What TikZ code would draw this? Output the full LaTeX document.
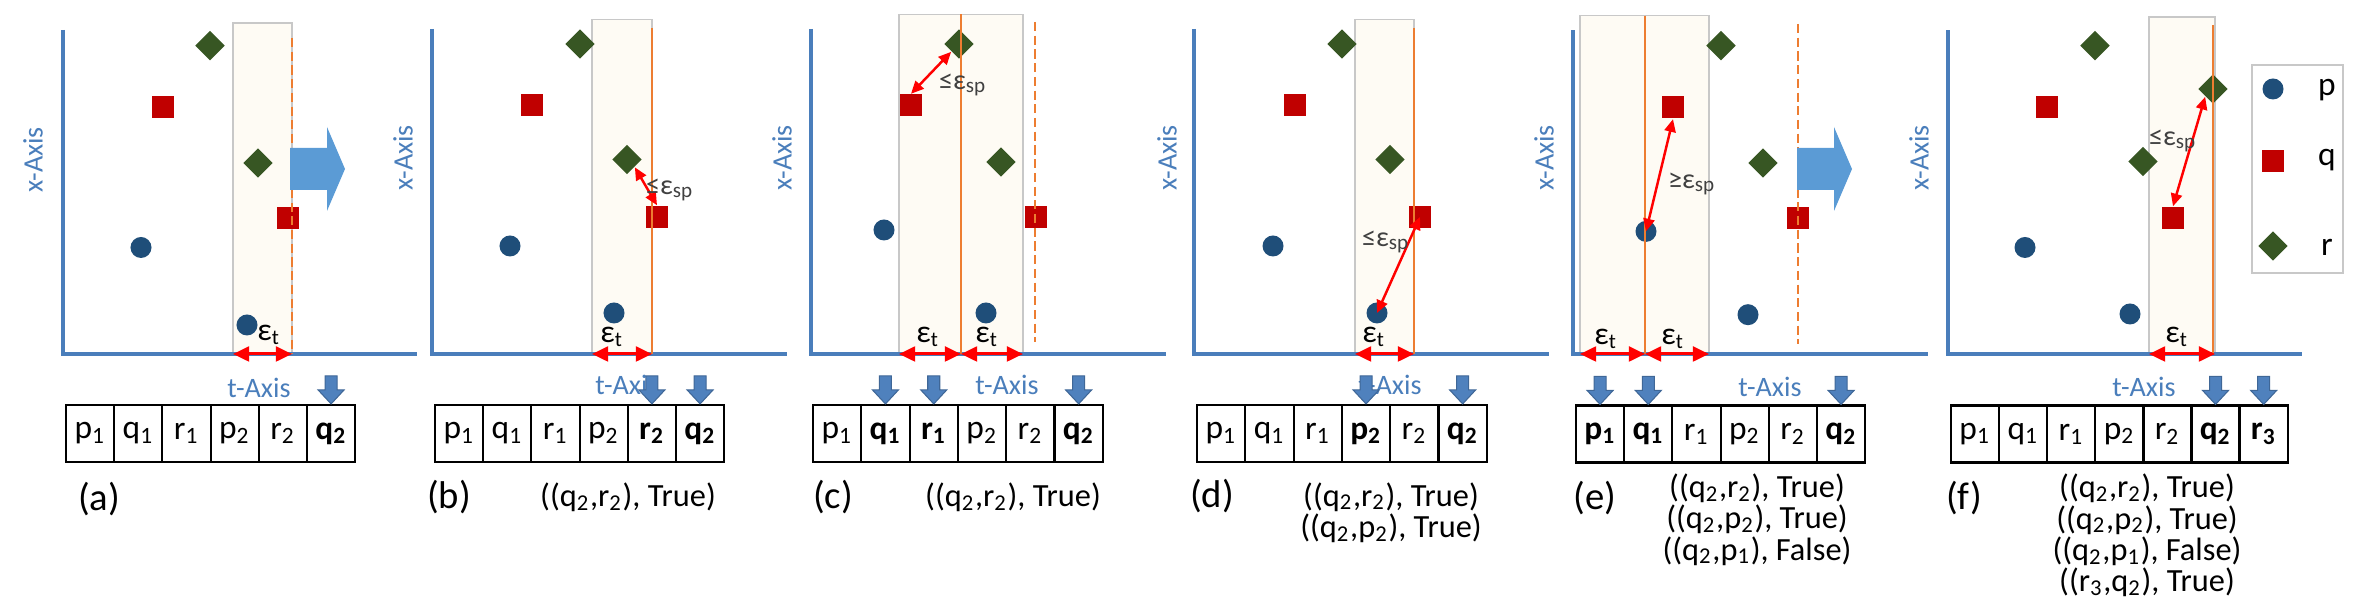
\documentclass[tikz,border=0pt]{standalone}
\usepackage{fontspec}
\setmainfont{Carlito}
\usetikzlibrary{arrows.meta,shapes.geometric}
\definecolor{axisblue}{RGB}{74,126,187}
\definecolor{bigblue}{RGB}{91,155,213}
\definecolor{ptrblue}{RGB}{79,129,189}
\definecolor{pblue}{RGB}{31,78,121}
\definecolor{qred}{RGB}{192,0,0}
\definecolor{rgreen}{RGB}{55,86,35}
\definecolor{winfill}{RGB}{254,251,244}
\definecolor{wingray}{RGB}{200,200,200}
\definecolor{torange}{RGB}{237,125,49}
\definecolor{spgray}{RGB}{64,64,64}
\newcommand{\ix}[1]{\textsubscript{#1}}

\tikzset{
  ptp/.style={circle, fill=pblue, minimum size=0.21cm, inner sep=0pt},
  ptq/.style={rectangle, fill=qred, minimum size=0.22cm, inner sep=0pt},
  ptr/.style={diamond, fill=rgreen, minimum size=0.30cm, inner sep=0pt},
  window/.style={fill=winfill, draw=wingray, line width=0.5pt},
  axis/.style={draw=axisblue, line width=0.95pt},
  tline/.style={draw=torange, line width=0.65pt},
  tdash/.style={tline, line width=0.75pt, dash pattern=on 2.6pt off 1.3pt},
  epsarrow/.style={red, line width=0.85pt, {Triangle[length=4.6pt,width=4.2pt]}-{Triangle[length=4.6pt,width=4.2pt]}},
  sparrow/.style={red, line width=0.7pt, {Triangle[length=3.6pt,width=3.2pt]}-{Triangle[length=3.6pt,width=3.2pt]}},
  cellbox/.style={draw, line width=0.6pt, minimum width=0.482cm, minimum height=0.57cm, inner sep=0pt, font=\fontsize{9.5}{10}\selectfont},
  xlab/.style={rotate=90, text=axisblue, font=\fontsize{8}{9}\selectfont},
  tlab/.style={text=axisblue, font=\fontsize{8}{9}\selectfont},
  epslab/.style={font=\fontsize{9}{10}\selectfont},
  splab/.style={text=spgray, font=\fontsize{8}{9}\selectfont},
  reslab/.style={align=center, font=\fontsize{9.2}{8.9}\selectfont},
  panlab/.style={font=\fontsize{11}{12}\selectfont},
  leglab/.style={font=\fontsize{9.5}{10}\selectfont},
  bigarrow/.pic={\fill[bigblue] (0,-21) -- (37,-21) -- (37,-42) -- (55,0) -- (37,42) -- (37,21) -- (0,21) -- cycle;},
  ptrarrow/.pic={\fill[ptrblue, draw=ptrblue!80!black, line width=0.3pt] (0,0) -- (-13,-14) -- (-6,-14) -- (-6,-28) -- (6,-28) -- (6,-14) -- (13,-14) -- cycle;}
}

\begin{document}
\begin{tikzpicture}[x=0.01cm, y=-0.01cm]
    \useasboundingbox (0,0) rectangle (2368,613);

    % (a) window before the jump
    \draw[window] (233,22.7) rectangle (292,354);
    \draw[axis] (63,30) -- (63,354) -- (417,354);
    \node[xlab] (a-xlab) at (33,160) {x-Axis};
    \node[ptp] (a-p1) at (141,247.5) {};
    \node[ptq] (a-q1) at (163,107.5) {};
    \node[ptr] (a-r1) at (210,45.7) {};
    \node[ptp] (a-p2) at (247,325) {};
    \node[ptr] (a-r2) at (258,163) {};
    \node[ptq] (a-q2) at (288,218) {};
    \draw[tdash] (292,38) -- (292,354);
    \pic at (290,169) {bigarrow};
    \coordinate (a-t0) at (233,354);
    \coordinate (a-t1) at (292,354);
    \draw[epsarrow] (a-t0) -- (a-t1);
    \node[epslab] (a-eps) at (269,335) {ε\ix{t}};
    \node[tlab] (a-tlab) at (259,388) {t-Axis};
    \foreach \lbl [count=\i] in {p\ix{1}, q\ix{1}, r\ix{1}, p\ix{2}, r\ix{2}, {\bfseries q\ix{2}}}
        \node[cellbox] (a-c\i) at ({66+(\i-0.5)*48.2},433.5) {\lbl};
    \pic at (a-c6.north) {ptrarrow};
    \node[panlab] (a-lab) at (99,499) {(a)};

    % (b) q2 against r2
    \draw[window] (592,19.5) rectangle (652,354);
    \draw[axis] (432,29) -- (432,354) -- (787,354);
    \node[xlab] (b-xlab) at (403,158) {x-Axis};
    \node[ptp] (b-p1) at (510,246) {};
    \node[ptq] (b-q1) at (532,105.5) {};
    \node[ptr] (b-r1) at (580,44) {};
    \node[ptp] (b-p2) at (614,313) {};
    \node[ptr] (b-r2) at (627,159.5) {};
    \node[ptq] (b-q2) at (657,217) {};
    \draw[tline] (652,28) -- (652,354);
    \draw[sparrow] (b-r2.south east) -- (b-q2.north);
    \node[splab] (b-sp) at (670,190) {≤ε\ix{sp}};
    \coordinate (b-t0) at (592,354);
    \coordinate (b-t1) at (652,354);
    \draw[epsarrow] (b-t0) -- (b-t1);
    \node[epslab] (b-eps) at (612,337) {ε\ix{t}};
    \node[tlab] (b-tlab) at (627,385) {t-Axis};
    \foreach \lbl [count=\i] in {p\ix{1}, q\ix{1}, r\ix{1}, p\ix{2}, {\bfseries r\ix{2}}, {\bfseries q\ix{2}}}
        \node[cellbox] (b-c\i) at ({435+(\i-0.5)*48.2},433.5) {\lbl};
    \pic at (b-c5.north) {ptrarrow};
    \pic at (b-c6.north) {ptrarrow};
    \node[panlab] (b-lab) at (449,497) {(b)};
    \node[reslab] (b-res) at (628,497) {((q\ix{2},r\ix{2}), True)};

    % (c) window around q1
    \draw[window] (899,14.5) rectangle (1023,354);
    \draw[axis] (811,29) -- (811,354) -- (1166,354);
    \node[xlab] (c-xlab) at (782,158) {x-Axis};
    \node[ptp] (c-p1) at (884,230) {};
    \node[ptq] (c-q1) at (911,105.5) {};
    \node[ptr] (c-r1) at (959,44) {};
    \node[ptp] (c-p2) at (986,313) {};
    \node[ptr] (c-r2) at (1001,162) {};
    \node[ptq] (c-q2) at (1036,217) {};
    \draw[tline] (961,14.5) -- (961,354);
    \draw[tdash] (1035,22) -- (1035,342);
    \draw[sparrow] (c-q1.north) -- (c-r1.south west);
    \node[splab] (c-sp) at (963,85) {≤ε\ix{sp}};
    \coordinate (c-t0) at (899,354);
    \coordinate (c-t1) at (961,354);
    \coordinate (c-t2) at (1023,354);
    \draw[epsarrow] (c-t0) -- (c-t1);
    \draw[epsarrow] (c-t1) -- (c-t2);
    \node[epslab] (c-eps1) at (928,337) {ε\ix{t}};
    \node[epslab] (c-eps2) at (987,337) {ε\ix{t}};
    \node[tlab] (c-tlab) at (1007,385) {t-Axis};
    \foreach \lbl [count=\i] in {p\ix{1}, {\bfseries q\ix{1}}, {\bfseries r\ix{1}}, p\ix{2}, r\ix{2}, {\bfseries q\ix{2}}}
        \node[cellbox] (c-c\i) at ({813+(\i-0.5)*48.3},433.5) {\lbl};
    \pic at (c-c2.north) {ptrarrow};
    \pic at (c-c3.north) {ptrarrow};
    \pic at (c-c6.north) {ptrarrow};
    \node[panlab] (c-lab) at (833,497) {(c)};
    \node[reslab] (c-res) at (1013,497) {((q\ix{2},r\ix{2}), True)};

    % (d) q2 against p2
    \draw[window] (1355,19.5) rectangle (1414,354);
    \draw[axis] (1194,29) -- (1194,354) -- (1549,354);
    \node[xlab] (d-xlab) at (1167,158) {x-Axis};
    \node[ptp] (d-p1) at (1273,246) {};
    \node[ptq] (d-q1) at (1295,105.5) {};
    \node[ptr] (d-r1) at (1342,44) {};
    \node[ptp] (d-p2) at (1377,313) {};
    \node[ptr] (d-r2) at (1390,159.5) {};
    \node[ptq] (d-q2) at (1420,217) {};
    \draw[tline] (1414,28) -- (1414,354);
    \draw[sparrow] (d-q2.center) -- (d-p2.center);
    \node[splab] (d-sp) at (1386,242) {≤ε\ix{sp}};
    \coordinate (d-t0) at (1355,354);
    \coordinate (d-t1) at (1414,354);
    \draw[epsarrow] (d-t0) -- (d-t1);
    \node[epslab] (d-eps) at (1374,337) {ε\ix{t}};
    \node[tlab] (d-tlab) at (1390,385) {t-Axis};
    \foreach \lbl [count=\i] in {p\ix{1}, q\ix{1}, r\ix{1}, {\bfseries p\ix{2}}, r\ix{2}, {\bfseries q\ix{2}}}
        \node[cellbox] (d-c\i) at ({1197+(\i-0.5)*48.3},433.5) {\lbl};
    \pic at (d-c4.north) {ptrarrow};
    \pic at (d-c6.north) {ptrarrow};
    \node[panlab] (d-lab) at (1212,496) {(d)};
    \node[reslab] (d-res) at (1391,512.5) {((q\ix{2},r\ix{2}), True)\\((q\ix{2},p\ix{2}), True)};

    % (e) q2 against p1, then the jump
    \draw[window] (1580,15.6) rectangle (1709,354);
    \draw[axis] (1573,30.5) -- (1573,354) -- (1928,354);
    \node[xlab] (e-xlab) at (1544,158) {x-Axis};
    \node[ptp] (e-p1) at (1646,231.4) {};
    \node[ptq] (e-q1) at (1673,107.5) {};
    \node[ptr] (e-r1) at (1721,45.7) {};
    \node[ptp] (e-p2) at (1748,314.7) {};
    \node[ptr] (e-r2) at (1763,163) {};
    \node[ptq] (e-q2) at (1798,218) {};
    \draw[tline] (1645,15.6) -- (1645,354);
    \draw[tdash] (1798,24) -- (1798,344);
    \pic at (1797,169) {bigarrow};
    \draw[sparrow] (e-q1.south) -- (e-p1.center);
    \node[splab] (e-sp) at (1692,184) {≥ε\ix{sp}};
    \coordinate (e-t0) at (1580,354);
    \coordinate (e-t1) at (1645,354);
    \coordinate (e-t2) at (1709,354);
    \draw[epsarrow] (e-t0) -- (e-t1);
    \draw[epsarrow] (e-t1) -- (e-t2);
    \node[epslab] (e-eps1) at (1606,339) {ε\ix{t}};
    \node[epslab] (e-eps2) at (1673,339) {ε\ix{t}};
    \node[tlab] (e-tlab) at (1770,387) {t-Axis};
    \foreach \lbl [count=\i] in {{\bfseries p\ix{1}}, {\bfseries q\ix{1}}, r\ix{1}, p\ix{2}, r\ix{2}, {\bfseries q\ix{2}}}
        \node[cellbox] (e-c\i) at ({1576+(\i-0.5)*48.2},434) {\lbl};
    \pic at (e-c1.north) {ptrarrow};
    \pic at (e-c2.north) {ptrarrow};
    \pic at (e-c6.north) {ptrarrow};
    \node[panlab] (e-lab) at (1595,498.5) {(e)};
    \node[reslab] (e-res) at (1757,519.5) {((q\ix{2},r\ix{2}), True)\\((q\ix{2},p\ix{2}), True)\\((q\ix{2},p\ix{1}), False)};

    % (f) r3 against q2
    \draw[window] (2149,16.8) rectangle (2215,354);
    \draw[axis] (1948,30.5) -- (1948,354) -- (2302,354);
    \node[xlab] (f-xlab) at (1919,158) {x-Axis};
    \node[ptp] (f-p1) at (2025,247.5) {};
    \node[ptq] (f-q1) at (2047,107.5) {};
    \node[ptr] (f-r1) at (2095,45.7) {};
    \node[ptp] (f-p2) at (2130,314) {};
    \node[ptr] (f-r2) at (2143,161.5) {};
    \node[ptq] (f-q2) at (2173,218) {};
    \node[ptr] (f-r3) at (2213,89) {};
    \draw[tline] (2213,25) -- (2213,354);
    \draw[sparrow] (f-r3.south west) -- (f-q2.north);
    \node[splab] (f-sp) at (2173,141) {≤ε\ix{sp}};
    \coordinate (f-t0) at (2149,354);
    \coordinate (f-t1) at (2215,354);
    \draw[epsarrow] (f-t0) -- (f-t1);
    \node[epslab] (f-eps) at (2177,337) {ε\ix{t}};
    \node[tlab] (f-tlab) at (2144,387) {t-Axis};
    \foreach \lbl [count=\i] in {p\ix{1}, q\ix{1}, r\ix{1}, p\ix{2}, r\ix{2}, {\bfseries q\ix{2}}, {\bfseries r\ix{3}}}
        \node[cellbox] (f-c\i) at ({1951+(\i-0.5)*48.1},434) {\lbl};
    \pic at (f-c6.north) {ptrarrow};
    \pic at (f-c7.north) {ptrarrow};
    \node[panlab] (f-lab) at (1964,498.5) {(f)};
    \node[reslab] (f-res) at (2147,535.5) {((q\ix{2},r\ix{2}), True)\\((q\ix{2},p\ix{2}), True)\\((q\ix{2},p\ix{1}), False)\\((r\ix{3},q\ix{2}), True)};

    % Legend
    \draw[wingray, line width=0.7pt] (2252,65) rectangle (2343,273);
    \node[ptp] (leg-p) at (2273,89) {};
    \node[ptq] (leg-q) at (2273,161) {};
    \node[ptr] (leg-r) at (2273,246) {};
    \node[leglab] (leg-pl) at (2327,90) {p};
    \node[leglab] (leg-ql) at (2327,160) {q};
    \node[leglab] (leg-rl) at (2327,247) {r};
\end{tikzpicture}
\end{document}
